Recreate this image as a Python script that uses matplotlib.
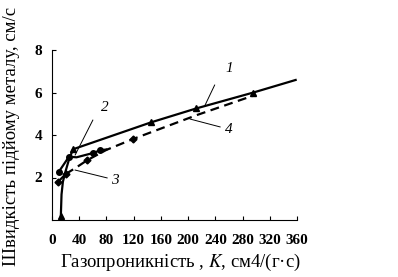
import matplotlib.pyplot as plt

plt.rcParams["mathtext.fontset"] = "stix"

# curve 1: solid, triangles
x1 = [13, 14, 16, 20, 25, 31, 146, 212, 296, 358]
y1 = [0.2, 1.2, 1.8, 2.3, 2.85, 3.33, 4.6, 5.25, 6.0, 6.59]
mark1 = [0, 5, 6, 7, 8]

# curve 2: solid, circles
x2 = [10, 25, 36, 60, 71, 80]
y2 = [2.27, 2.98, 2.95, 3.15, 3.28, 3.32]
mark2 = [0, 1, 3, 4]

# curve 3: low-K part, diamonds
x3 = [9, 20]
y3 = [1.8, 2.16]

# curve 4: dashed
x4 = [20, 37, 52, 80, 119, 213, 300]
y4 = [2.16, 2.5, 2.82, 3.3, 3.81, 4.94, 5.9]
mark4 = [2, 4]

# curve labels: (text, label x, label y, leader start x, y, leader end x, y)
labels = [
    ("1", 261, 7.15, 239, 6.35, 225, 5.41),
    ("2", 78, 5.3, 60, 4.7, 34, 3.06),
    ("3", 92, 1.88, 81, 1.98, 34, 2.35),
    ("4", 260, 4.24, 247, 4.38, 203, 4.75),
]

xticks = [0, 40, 80, 120, 160, 200, 240, 280, 320, 360]
yticks = [2, 4, 6, 8]

serif = "Liberation Serif"

fig = plt.figure(figsize=(3.98, 2.77), dpi=100)
ax = fig.add_axes([52 / 398, 57 / 277, 245 / 398, 170 / 277])

ax.plot(x1, y1, color="black", lw=1.6, marker="^", ms=4.5, markevery=mark1)
ax.plot(x2, y2, color="black", lw=1.6, marker="o", ms=4, markevery=mark2)
ax.plot(x3, y3, color="black", lw=1.6, marker="D", ms=3.5)
ax.plot(x4, y4, color="black", lw=1.6, ls=(0, (4, 2.5)), marker="D", ms=3.5,
        markevery=mark4)

for txt, tx, ty, lx0, ly0, lx1, ly1 in labels:
    ax.text(tx, ty, txt, fontsize=11, style="italic", family=serif,
            ha="center", va="center")
    ax.plot([lx0, lx1], [ly0, ly1], color="black", lw=0.7)

ax.set_xlim(0, 360)
ax.set_ylim(0, 8)
ax.set_xticks(xticks)
ax.set_yticks(yticks)
ax.tick_params(direction="in", length=3, width=0.8)
ax.tick_params(axis="x", pad=10)
ax.tick_params(axis="y", pad=7)
for lab in ax.get_xticklabels() + ax.get_yticklabels():
    lab.set_family(serif)
    lab.set_fontsize(11)
    lab.set_fontweight("bold")

ax.spines["top"].set_visible(False)
ax.spines["right"].set_visible(False)
ax.spines["left"].set_linewidth(0.8)
ax.spines["bottom"].set_linewidth(0.8)

fig.text(180 / 398, 1 - 262 / 277, "Газопроникність , $\\mathit{K}$, см4/(г·с)",
         family=serif, fontsize=13.5, ha="center", va="center")
fig.text(12 / 398, 1 - 136 / 277, "Швидкість підйому металу, см/с",
         family=serif, fontsize=13.5, rotation=90, ha="center", va="center")

fig.savefig("out.png", dpi=100)
